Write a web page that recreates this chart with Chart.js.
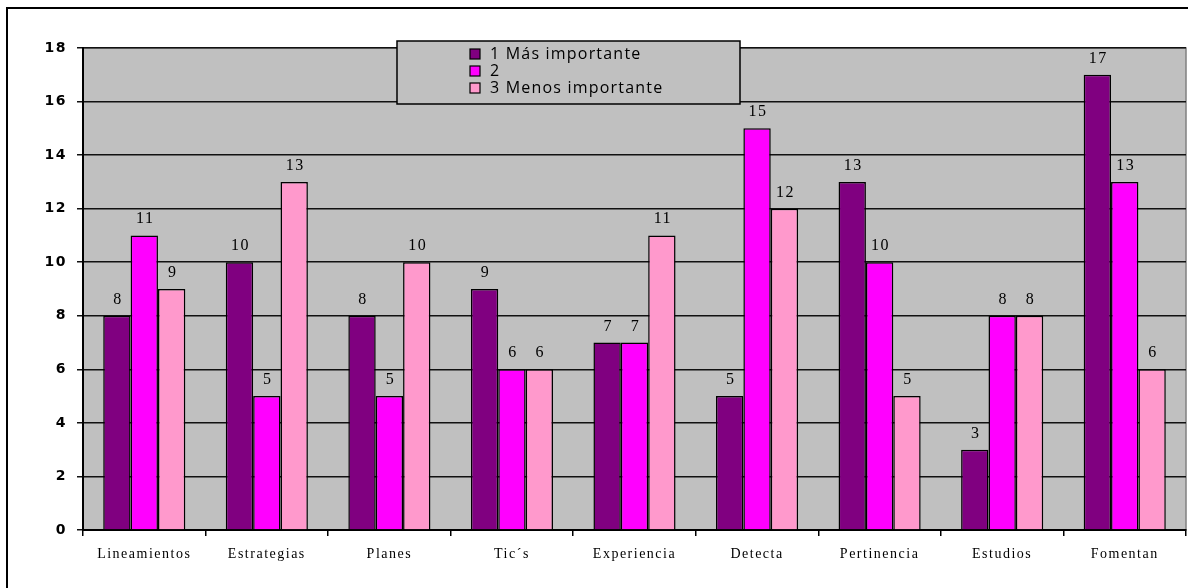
<!DOCTYPE html>
<html>
<head>
<meta charset="utf-8">
<script src="https://cdn.jsdelivr.net/npm/chart.js@4.4.1/dist/chart.umd.min.js"></script>
<style>
  html, body { margin: 0; padding: 0; background: #fff; }
  #wrap { width: 1188px; height: 588px; position: relative; }
</style>
</head>
<body>
<div id="wrap"><canvas id="chart"></canvas></div>
<script>
  const categories = ['Lineamientos', 'Estrategias', 'Planes', 'Tic´s', 'Experiencia', 'Detecta', 'Pertinencia', 'Estudios', 'Fomentan'];
  const seriesNames = ['1 Más importante', '2', '3 Menos importante'];
  const masImportante = [8, 10, 8, 9, 7, 5, 13, 3, 17];
  const dos = [11, 5, 5, 6, 7, 15, 10, 8, 13];
  const menosImportante = [9, 13, 10, 6, 11, 12, 5, 8, 6];
  const colors = ['#800080', '#ff00ff', '#ff99cc'];
  const yTicks = [0, 2, 4, 6, 8, 10, 12, 14, 16, 18];

  const frame = {
    id: 'frame',
    beforeDraw(chart) {
      const { ctx, chartArea: a } = chart;
      ctx.save();
      ctx.fillStyle = '#fff';
      ctx.fillRect(0, 0, chart.width, chart.height);
      ctx.strokeStyle = '#000';
      ctx.lineWidth = 2;
      ctx.strokeRect(7, 8, chart.width + 10, chart.height + 10);
      ctx.fillStyle = '#c0c0c0';
      ctx.fillRect(a.left, a.top, a.right - a.left, a.bottom - a.top);
      ctx.strokeStyle = '#808080';
      ctx.lineWidth = 1.5;
      ctx.strokeRect(a.left, a.top, a.right - a.left, a.bottom - a.top);
      ctx.restore();
      // spaced-out lettering like the original
      ctx.letterSpacing = '1.5px';
    }
  };

  const valueLabels = {
    id: 'valueLabels',
    afterDatasetsDraw(chart) {
      const { ctx } = chart;
      ctx.save();
      ctx.letterSpacing = '1.5px';
      ctx.font = '16px "Liberation Serif", "Times New Roman", serif';
      ctx.fillStyle = '#000';
      ctx.textAlign = 'center';
      ctx.textBaseline = 'alphabetic';
      chart.data.datasets.forEach((ds, i) => {
        chart.getDatasetMeta(i).data.forEach((bar, j) => {
          ctx.fillText(String(ds.data[j]), bar.x + 1, bar.y - 12);
        });
      });
      ctx.restore();
    }
  };

  const boxLegend = {
    id: 'boxLegend',
    afterDraw(chart) {
      const { ctx } = chart;
      ctx.save();
      ctx.fillStyle = '#c0c0c0';
      ctx.fillRect(397, 41, 343, 63);
      ctx.strokeStyle = '#000';
      ctx.lineWidth = 1.5;
      ctx.strokeRect(397, 41, 343, 63);
      ctx.letterSpacing = '1.2px';
      ctx.font = '16px "Open Sans", "Liberation Sans", sans-serif';
      ctx.textBaseline = 'middle';
      ctx.textAlign = 'left';
      chart.data.datasets.forEach((ds, i) => {
        const y = 54 + i * 17;
        ctx.fillStyle = ds.backgroundColor;
        ctx.fillRect(470, y - 5, 10, 10);
        ctx.strokeStyle = '#000';
        ctx.lineWidth = 1.2;
        ctx.strokeRect(470, y - 5, 10, 10);
        ctx.fillStyle = '#000';
        ctx.fillText(ds.label, 490, y);
      });
      ctx.restore();
    }
  };

  const series = [masImportante, dos, menosImportante];

  new Chart(document.getElementById('chart'), {
    type: 'bar',
    data: {
      labels: categories,
      datasets: series.map((data, i) => ({
        label: seriesNames[i],
        data: data,
        backgroundColor: colors[i],
        borderColor: '#000',
        borderWidth: 1.5,
        categoryPercentage: 0.67,
        barPercentage: 1.0
      }))
    },
    options: {
      responsive: true,
      maintainAspectRatio: false,
      animation: false,
      layout: { padding: { left: 0, top: 48, right: 2, bottom: 0 } },
      plugins: {
        legend: { display: false },
        tooltip: { enabled: false }
      },
      scales: {
        x: {
          afterFit(scale) { scale.height = 58; },
          grid: { offset: true, drawOnChartArea: false, drawTicks: true, tickLength: 6, color: '#000', lineWidth: 1.5 },
          border: { color: '#000', width: 2 },
          ticks: {
            color: '#000',
            padding: 10,
            font: { family: '"Liberation Serif", "Times New Roman", serif', size: 14 }
          }
        },
        y: {
          min: 0,
          max: 18,
          afterFit(scale) { scale.width = 83; },
          afterBuildTicks(scale) { scale.ticks = yTicks.map(v => ({ value: v })); },
          grid: { color: '#111', lineWidth: 1.5, drawTicks: true, tickLength: 6 },
          border: { color: '#000', width: 2 },
          ticks: {
            color: '#000',
            padding: 10,
            font: { family: '"DejaVu Sans", Verdana, sans-serif', size: 14, weight: 'bold' }
          }
        }
      }
    },
    plugins: [frame, valueLabels, boxLegend]
  });
</script>
</body>
</html>
